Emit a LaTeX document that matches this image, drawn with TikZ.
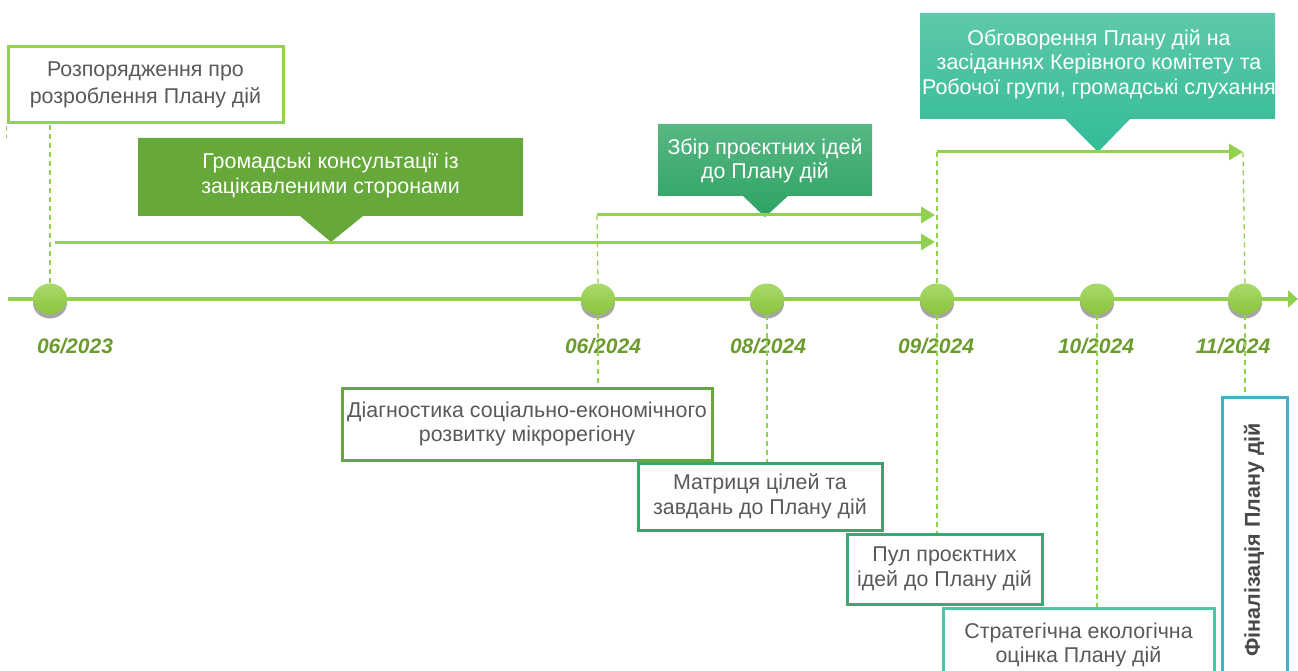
\documentclass[tikz,border=0pt]{standalone}
\usepackage{fontspec}
\setmainfont{Liberation Sans}
\usetikzlibrary{arrows.meta,shadows,shapes.geometric}
\definecolor{lime}{RGB}{146,208,80}
\definecolor{txt}{RGB}{89,89,89}
\definecolor{datec}{RGB}{107,155,45}
\definecolor{cgreen}{RGB}{102,168,58}
\definecolor{ctwotop}{RGB}{88,182,130}
\definecolor{ctwobot}{RGB}{44,163,100}
\definecolor{cthreetop}{RGB}{94,200,170}
\definecolor{cthreebot}{RGB}{50,188,152}
\definecolor{bone}{RGB}{146,208,80}
\definecolor{bdiag}{RGB}{102,168,58}
\definecolor{bmat}{RGB}{54,166,110}
\definecolor{bpul}{RGB}{58,168,114}
\definecolor{bstr}{RGB}{77,198,166}
\definecolor{bfin}{RGB}{75,172,198}
\definecolor{dotA}{RGB}{170,217,108}
\definecolor{dotB}{RGB}{138,196,60}
\definecolor{fintxt}{RGB}{72,72,72}
\begin{document}
\begin{tikzpicture}[x=1pt,y=-1pt,
  box/.style={draw=#1, line width=3pt, fill=white, text=txt, align=center, inner sep=0pt},
  txtf/.style={font=\fontsize{21.4}{24.5}\selectfont},
  ctext/.style={text=white, align=center, inner sep=0pt, font=\fontsize{21.4}{24.5}\selectfont},
  dsh/.style={lime, line width=1.3pt, dash pattern=on 5pt off 4pt},
  arr/.style={lime, line width=3pt, -{Triangle[length=14pt,width=16pt]}},
  dot/.style={ellipse, minimum width=34pt, minimum height=31pt, inner sep=0pt, top color=dotA, bottom color=dotB, drop shadow={shadow xshift=0pt, shadow yshift=-4pt, opacity=0.35, fill=black}},
  datel/.style={anchor=base, text=datec, font=\fontsize{21}{24}\selectfont\bfseries\itshape}
]
\clip (0,0) rectangle (1298,671);
\fill[white] (0,0) rectangle (1298,671);

% top box
\node[box=bone, minimum width=275pt, minimum height=76pt, font=\fontsize{21.4}{27}\selectfont] (b1) at (145.5,85) {Розпорядження про\\розроблення Плану дій};

% callout 1
\path[fill=cgreen] (138,138) -- (523,138) -- (523,216) -- (363,216) -- (331,242) -- (300,216) -- (138,216) -- cycle;
\node[ctext] (t1) at (330.5,175.5) {Громадські консультації із\\зацікавленими сторонами};

% callout 2
\path[top color=ctwotop, bottom color=ctwobot] (658,124) -- (872,124) -- (872,196) -- (788,196) -- (765,217) -- (743,196) -- (658,196) -- cycle;
\node[ctext] (t2) at (765,161) {Збір проєктних ідей\\до Плану дій};

% callout 3
\path[top color=cthreetop, bottom color=cthreebot] (920,13) -- (1275,13) -- (1275,119) -- (1130,119) -- (1098,152) -- (1065,119) -- (920,119) -- cycle;
\node[ctext] (t3) at (1099,64) {Обговорення Плану дій на\\засіданнях Керівного комітету та\\Робочої групи, громадські слухання};

% arrows
\coordinate (a1s) at (55,242);
\coordinate (a1e) at (935,242);
\coordinate (a2s) at (597,215);
\coordinate (a2e) at (935,215);
\coordinate (a3s) at (937,152);
\coordinate (a3e) at (1243,152);
\draw[arr] (a1s) -- (a1e);
\draw[arr] (a2s) -- (a2e);
\draw[arr] (a3s) -- (a3e);

% timeline
\coordinate (ts) at (8,299);
\coordinate (te) at (1298,299);
\draw[lime, line width=3.5pt, -{Triangle[length=10pt,width=17pt]}] (ts) -- (te);

% circles
\node[dot] (c1) at (50,299) {};
\node[dot] (c2) at (598,299) {};
\node[dot] (c3) at (767,299) {};
\node[dot] (c4) at (937,299) {};
\node[dot] (c5) at (1097,299) {};
\node[dot] (c6) at (1245,299) {};

% dates
\node[datel] (d1) at (75,353) {06/2023};
\node[datel] (d2) at (603,353) {06/2024};
\node[datel] (d3) at (768,353) {08/2024};
\node[datel] (d4) at (936,353) {09/2024};
\node[datel] (d5) at (1096,353) {10/2024};
\node[datel] (d6) at (1233,353) {11/2024};

% lower boxes
\node[box=bdiag, txtf, minimum width=370pt, minimum height=72pt] (b2) at (527,424) {Діагностика соціально-економічного\\розвитку мікрорегіону};
\node[box=bmat, txtf, minimum width=244pt, minimum height=67pt] (b3) at (760,496.5) {Матриця цілей та\\завдань до Плану дій};
\node[box=bpul, txtf, minimum width=195pt, minimum height=70pt] (b4) at (944.5,569) {Пул проєктних\\ідей до Плану дій};
\node[box=bstr, minimum width=271pt, minimum height=100pt] (b5) at (1078.5,658) {};
\node[text=txt, align=center, inner sep=0pt, txtf] (t5) at (1078.5,645) {Стратегічна екологічна\\оцінка Плану дій};
\node[box=bfin, minimum width=65pt, minimum height=303pt] (b6) at (1254.5,548.5) {};
\node[rotate=90, text=fintxt, inner sep=0pt, font=\fontsize{21.5}{24}\selectfont\bfseries] (t6) at (1254,540) {Фіналізація Плану дій};

% dashed connectors
\draw[dsh] (c1.north) -- (c1.north |- b1.south);
\draw[dsh] (b1.south west) ++(0,1.5) -- ++(0,12);
\draw[dsh] (c2.north) -- (a2s);
\draw[dsh] (c4.north) -- (a3s);
\draw[dsh] (c6.north) -- (a3e);
\draw[dsh] (c2.south) -- (c2.south |- b2.north);
\draw[dsh] (c3.south) -- (c3.south |- b3.north);
\draw[dsh] (c4.south) -- (c4.south |- b4.north);
\draw[dsh] (c5.south) -- (c5.south |- b5.north);
\draw[dsh] (c6.south) -- (c6.south |- b6.north);
\end{tikzpicture}
\end{document}
